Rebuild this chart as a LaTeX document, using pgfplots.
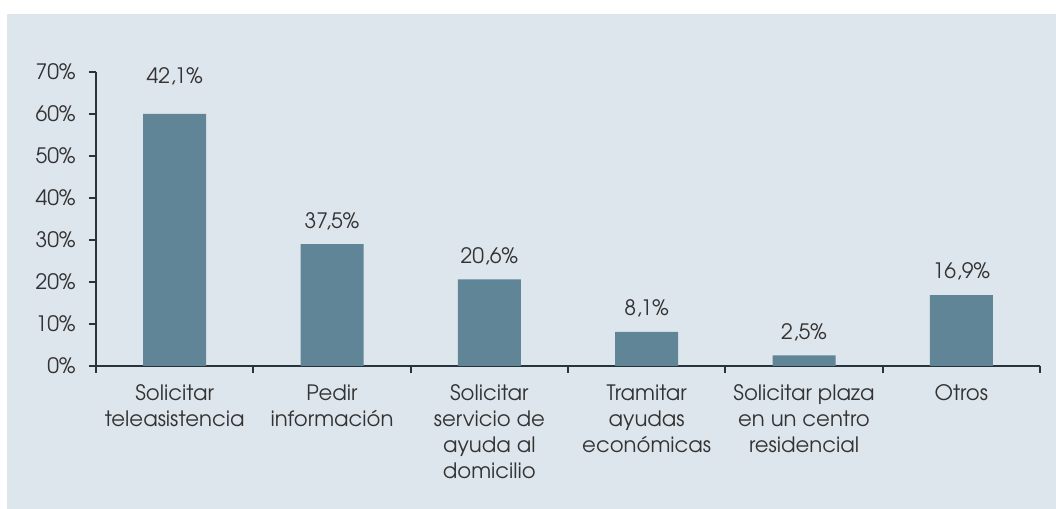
\documentclass[border=0pt]{standalone}
\usepackage{pgfplots}
\pgfplotsset{compat=1.18}
\usepackage{pgfplotstable}
\usepackage{fontspec}
\setmainfont{TeX Gyre Adventor}
\definecolor{bg}{HTML}{DEE6ED}
\definecolor{barc}{HTML}{5F8596}
\definecolor{axc}{HTML}{26343E}
\definecolor{txt}{HTML}{333333}

\pgfplotstableread{
x y dy lab
0 60   37.5 {42,1\%}
1 29   23.5 {37,5\%}
2 20.6 23.5 {20,6\%}
3 8.1  23.5 {8,1\%}
4 2.5  23.5 {2,5\%}
5 16.9 23.5 {16,9\%}
}\datatable

\begin{document}
\begin{tikzpicture}
\useasboundingbox (0,0) rectangle (1056bp,509bp);
\fill[bg] (7bp,0) rectangle (1056bp,495bp);
\begin{axis}[
  at={(96bp,143bp)}, anchor=south west,
  scale only axis, width=944bp, height=294bp,
  xmin=-0.5, xmax=5.5, ymin=0, ymax=70,
  axis x line*=bottom, axis y line*=left,
  axis line style={axc, line width=2bp},
  tick align=outside, major tick length=7bp,
  tick style={axc, line width=2bp},
  xtick={-0.5,0.5,...,5.5}, xticklabels={,,,,,,,},
  extra x ticks={0,1,2,3,4,5},
  extra x tick labels={Solicitar\\teleasistencia, Pedir\\información, Solicitar\\servicio de\\ayuda al\\domicilio, Tramitar\\ayudas\\económicas, Solicitar plaza\\en un centro\\residencial, Otros},
  extra x tick style={major tick length=0pt},
  ytick={0,10,...,70},
  yticklabels={0\%,10\%,20\%,30\%,40\%,50\%,60\%,70\%},
  tick label style={font=\fontsize{21.3}{26}\selectfont, text=txt},
  xticklabel style={align=center, anchor=north, yshift=-15bp},
  yticklabel style={anchor=east, xshift=-10bp},
]
\addplot[ybar, bar width=63bp, fill=barc, draw=none, bar shift=0pt,
  nodes near coords, point meta=explicit symbolic,
  visualization depends on={\thisrow{dy} \as \dy},
  every node near coord/.append style={anchor=center, yshift=\dy,
    font=\fontsize{21.3}{26}\selectfont, text=txt}]
  table[x=x, y=y, meta=lab]{\datatable};
\end{axis}
\end{tikzpicture}
\end{document}
